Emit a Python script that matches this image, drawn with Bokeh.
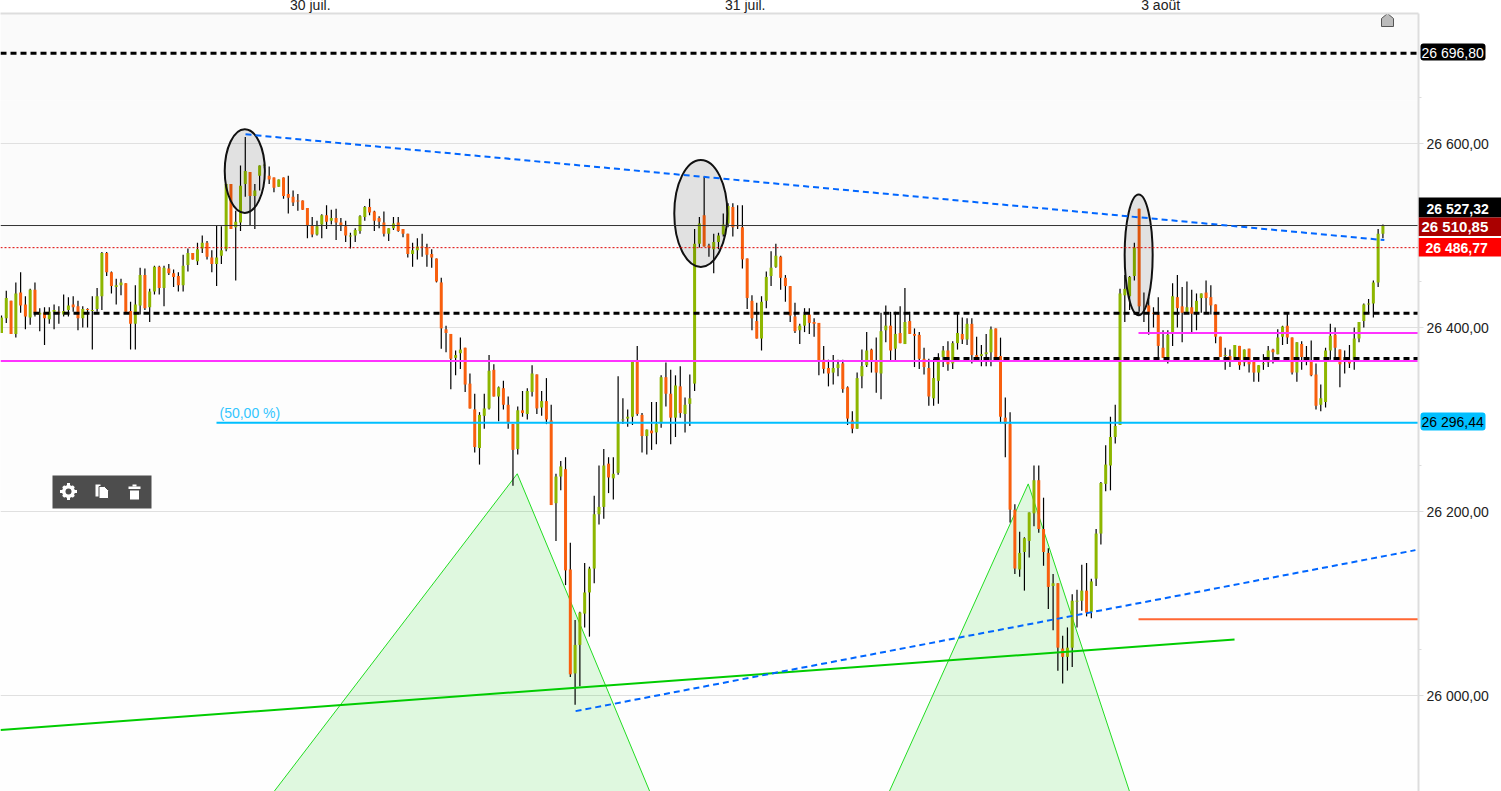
from bokeh.plotting import figure
from bokeh.models import ColumnDataSource, FixedTicker, Range1d, Label
from bokeh.core.properties import value
from bokeh.embed import file_html
from bokeh.resources import INLINE

opens = [
26394,26410,26429,26393,26438,26425,26411,26441,26414,26416,
26409,26417,26417,26414,26419,26425,26423,26410,26420,26418,
26420,26434,26481,26460,26444,26446,26448,26418,26404,26424,
26457,26422,26439,26466,26443,26464,26459,26456,26446,26468,
26481,26472,26486,26492,26476,26469,26478,26485,26556,26509,
26514,26556,26569,26543,26565,26576,26565,26563,26553,26563,
26545,26542,26538,26538,26530,26511,26501,26512,26522,26516,
26519,26514,26510,26499,26500,26505,26520,26531,26526,26519,
26514,26502,26508,26514,26507,26502,26480,26484,26488,26487,
26480,26475,26449,26398,26393,26367,26372,26378,26339,26311,
26269,26304,26312,26354,26325,26334,26316,26295,26268,26310,
26306,26330,26349,26313,26320,26299,26209,26238,26246,26137,
26024,26055,26089,26112,26138,26197,26205,26252,26236,26242,
26299,26301,26303,26363,26305,26282,26288,26286,26296,26346,
26328,26302,26336,26306,26317,26339,26491,26522,26489,26485,
26493,26501,26513,26531,26511,26509,26475,26429,26407,26388,
26429,26456,26466,26477,26454,26445,26412,26397,26402,26414,
26406,26405,26365,26356,26351,26356,26361,26335,26299,26290,
26347,26359,26376,26363,26350,26397,26402,26377,26394,26382,
26407,26393,26392,26366,26356,26323,26342,26368,26375,26361,
26383,26393,26387,26404,26370,26369,26371,26373,26399,26369,
26302,26295,26202,26137,26156,26168,26198,26234,26181,26155,
26119,26122,26051,26042,26052,26102,26103,26114,26091,26127,
26176,26230,26250,26281,26294,26435,26434,26456,26529,26417,
26424,26416,26414,26378,26367,26394,26433,26423,26417,26422,
26417,26432,26438,26433,26425,26390,26369,26369,26368,26380,
26362,26377,26363,26351,26360,26362,26376,26371,26390,26402,
26389,26351,26382,26366,26363,26349,26316,26319,26375,26392,
26376,26365,26365,26365,26388,26407,26425,26426,26449,26502]
highs = [
26413,26440,26429,26449,26460,26434,26442,26449,26421,26422,
26422,26425,26423,26436,26433,26434,26429,26423,26421,26434,
26443,26482,26482,26461,26453,26453,26448,26428,26446,26465,
26464,26442,26467,26467,26467,26469,26463,26460,26479,26486,
26481,26492,26500,26494,26484,26511,26510,26556,26556,26527,
26576,26607,26569,26556,26576,26578,26575,26563,26561,26563,
26565,26549,26545,26538,26530,26520,26516,26523,26533,26528,
26529,26519,26516,26503,26508,26522,26532,26540,26527,26521,
26526,26508,26520,26520,26507,26502,26492,26497,26502,26491,
26485,26475,26454,26402,26393,26375,26389,26378,26350,26328,
26308,26328,26370,26360,26336,26342,26325,26295,26314,26331,
26334,26359,26349,26331,26345,26316,26241,26255,26259,26166,
26082,26091,26144,26140,26217,26250,26268,26259,26259,26347,
26323,26311,26364,26380,26307,26289,26319,26319,26348,26362,
26354,26348,26358,26324,26349,26507,26520,26564,26491,26502,
26503,26524,26535,26535,26533,26533,26475,26435,26427,26434,
26461,26483,26491,26478,26457,26445,26427,26404,26421,26421,
26410,26405,26380,26365,26370,26365,26365,26336,26309,26351,
26376,26395,26377,26389,26416,26424,26417,26417,26423,26443,
26417,26399,26395,26378,26366,26366,26372,26380,26385,26385,
26416,26411,26410,26410,26390,26381,26393,26401,26399,26389,
26324,26308,26208,26178,26172,26199,26250,26250,26215,26160,
26132,26122,26065,26074,26110,26115,26142,26144,26127,26181,
26232,26272,26303,26316,26442,26457,26456,26492,26529,26438,
26433,26422,26433,26397,26397,26448,26457,26444,26450,26441,
26437,26437,26451,26446,26425,26390,26378,26376,26381,26380,
26376,26377,26368,26359,26371,26380,26377,26398,26402,26415,
26389,26384,26385,26380,26386,26361,26338,26378,26404,26400,
26376,26375,26381,26400,26406,26426,26431,26451,26507,26512]
lows = [
26394,26405,26393,26389,26416,26398,26403,26412,26396,26381,
26404,26398,26404,26412,26412,26417,26397,26400,26400,26376,
26417,26419,26456,26437,26425,26435,26417,26376,26376,26414,
26419,26406,26436,26436,26423,26457,26444,26439,26439,26461,
26474,26468,26481,26474,26460,26445,26469,26483,26507,26451,
26505,26542,26511,26507,26549,26573,26556,26547,26553,26540,
26524,26532,26527,26528,26497,26498,26500,26497,26507,26512,
26495,26505,26493,26486,26493,26502,26516,26522,26505,26508,
26499,26494,26506,26504,26498,26476,26466,26474,26477,26466,
26465,26449,26377,26373,26333,26348,26355,26330,26312,26264,
26251,26290,26311,26325,26298,26311,26290,26228,26262,26303,
26300,26325,26306,26304,26295,26207,26168,26223,26120,26020,
25990,26010,26074,26064,26122,26186,26192,26220,26213,26240,
26295,26292,26294,26304,26264,26262,26267,26273,26291,26314,
26273,26281,26302,26286,26293,26331,26487,26488,26477,26459,
26485,26499,26509,26499,26507,26464,26420,26397,26388,26375,
26421,26445,26465,26441,26428,26406,26394,26382,26395,26393,
26390,26348,26350,26336,26338,26347,26329,26294,26285,26290,
26334,26357,26351,26329,26322,26384,26363,26363,26383,26382,
26393,26357,26355,26349,26315,26315,26317,26357,26353,26355,
26376,26382,26381,26361,26364,26358,26358,26358,26365,26296,
26259,26188,26132,26129,26114,26150,26184,26177,26141,26094,
26071,26027,26013,26027,26031,26074,26092,26086,26084,26119,
26164,26222,26223,26274,26294,26406,26419,26451,26417,26406,
26392,26400,26368,26367,26361,26380,26400,26384,26417,26395,
26397,26416,26416,26414,26383,26368,26354,26357,26363,26354,
26358,26351,26341,26341,26354,26357,26361,26371,26381,26382,
26349,26341,26354,26359,26347,26311,26309,26313,26365,26365,
26335,26350,26356,26354,26384,26400,26416,26411,26444,26497]
closes = [
26411,26432,26393,26437,26424,26412,26441,26416,26416,26410,
26417,26419,26416,26418,26424,26422,26410,26420,26419,26419,
26434,26481,26460,26445,26446,26449,26417,26404,26425,26457,
26421,26439,26466,26443,26465,26459,26455,26446,26467,26481,
26474,26485,26492,26477,26469,26476,26484,26556,26507,26515,
26554,26570,26543,26549,26576,26577,26561,26552,26561,26543,
26541,26536,26537,26528,26511,26501,26510,26522,26515,26519,
26514,26511,26500,26500,26506,26521,26531,26525,26516,26515,
26502,26508,26513,26505,26502,26480,26484,26488,26487,26479,
26476,26450,26399,26394,26366,26370,26376,26338,26312,26270,
26305,26312,26353,26325,26335,26316,26297,26267,26310,26307,
26331,26350,26312,26320,26300,26207,26238,26249,26136,26023,
26055,26090,26112,26138,26197,26205,26250,26237,26241,26297,
26300,26303,26363,26306,26282,26289,26285,26295,26346,26328,
26302,26337,26307,26316,26323,26491,26513,26488,26487,26493,
26500,26512,26532,26509,26510,26474,26432,26410,26388,26428,
26455,26465,26478,26454,26445,26413,26396,26402,26414,26405,
26404,26363,26355,26350,26356,26360,26333,26301,26290,26345,
26358,26375,26363,26351,26396,26402,26375,26393,26383,26406,
26393,26391,26366,26357,26325,26345,26367,26375,26360,26383,
26394,26387,26404,26370,26368,26371,26373,26398,26368,26303,
26295,26202,26138,26155,26171,26199,26234,26181,26156,26118,
26122,26052,26042,26052,26103,26103,26114,26090,26124,26176,
26231,26251,26281,26293,26437,26442,26455,26487,26423,26416,
26417,26415,26380,26367,26392,26434,26421,26416,26422,26415,
26429,26437,26432,26424,26390,26368,26370,26363,26381,26359,
26376,26360,26351,26359,26361,26375,26373,26389,26401,26389,
26351,26384,26368,26367,26348,26315,26323,26375,26391,26378,
26360,26366,26361,26388,26406,26425,26426,26449,26502,26511]

y_ticks = [26000, 26200, 26400, 26600]
y_tick_labels = ["26 000,00", "26 200,00", "26 400,00", "26 600,00"]
y_minor = [26050, 26250, 26450, 26650]
x_ticks = [64.6, 155.6, 242.5]
x_tick_labels = ["30 juil.", "31 juil.", "3 août"]

res_top = 26698.0
res_mid = 26415.4
res_low = 26366.3
mag_long = 26363.6
mag_short = 26394.0
fib_50 = 26296.44
stop_line = 26083.0
last_high = 26510.85
last_dot = 26486.77

trend_a = ([51.05, 289.3], [26610, 26495])
trend_b = ([120.1, 295.8], [25983, 26158])
trend_c = ([-0.21, 257.96], [25962.5, 26061])
head_1 = ([55.6, 107.9, 136.4], [25886, 26241, 25886])
head_2 = ([184.9, 214.8, 236.6], [25886, 26230, 25886])
circles_x = [50.9, 146.3, 237.9]
circles_y = [26570, 26524, 26479]
circles_w = [8.4, 11.1, 5.86]
circles_h = [91, 116.3, 131.5]

flag_texts = ["26 696,80", "26 296,44", "26 527,32", "26 510,85", "26 486,77"]

FONT = "Liberation Sans"
PX_PER_BAR = 4.78
PX_PER_PT = 0.92
LIFT = 7

def sx(px):
    return (px - 1) / PX_PER_BAR

def sy(py):
    return 26000 + (695.0 - py) / PX_PER_PT

Y_LO = sy(791)
Y_HI = sy(13)

p = figure(width=1501, height=791 + LIFT, output_backend="svg", toolbar_location=None,
           x_range=Range1d(-1 / PX_PER_BAR, 1417 / PX_PER_BAR), y_range=Range1d(Y_LO, Y_HI),
           x_axis_location="above", y_axis_location="right",
           min_border_left=0, min_border_right=83, min_border_top=13, min_border_bottom=0,
           background_fill_color="#FEFEFE", border_fill_color="#FFFFFF",
           outline_line_color=None,
           styles={"position": "absolute", "left": "0px", "top": f"-{LIFT}px"})

ax = p.yaxis[0]
ax.ticker = FixedTicker(ticks=y_ticks, minor_ticks=y_minor)
ax.major_label_overrides = dict(zip(y_ticks, y_tick_labels))
ax.major_label_text_font = FONT
ax.major_label_text_font_size = "14px"
ax.major_label_text_color = "#222222"
ax.major_label_standoff = 3
ax.axis_line_color = "#DDDDDD"
ax.axis_line_width = 2
ax.major_tick_line_color = "#DDDDDD"
ax.major_tick_in = 0
ax.major_tick_out = 5
ax.minor_tick_line_color = "#DDDDDD"
ax.minor_tick_in = 0
ax.minor_tick_out = 3

ax = p.xaxis[0]
ax.ticker = FixedTicker(ticks=x_ticks)
ax.major_label_overrides = dict(zip(x_ticks, x_tick_labels))
ax.major_label_text_font = FONT
ax.major_label_text_font_size = "14px"
ax.major_label_text_color = "#222222"
ax.major_label_standoff = -5
ax.axis_line_color = "#DDDDDD"
ax.axis_line_width = 2
ax.major_tick_line_color = None
ax.minor_tick_line_color = None

p.xgrid.visible = False
p.ygrid[0].ticker = FixedTicker(ticks=y_ticks)
p.ygrid[0].grid_line_color = "#E0E0E0"
p.ygrid[0].grid_line_width = 1

x0, x1 = -1 / PX_PER_BAR, 1417 / PX_PER_BAR

p.quad(left=[x0] * 3, right=[x1] * 3, top=[sy(13), sy(100), sy(250)], bottom=[sy(100), sy(250), sy(500)],
       fill_color=["#FAFAFA", "#FBFBFB", "#FDFDFD"], line_color=None, level="image")

for xs, ys in (head_1, head_2):
    p.patch(xs, ys, fill_color="#00CC00", fill_alpha=0.12, line_color="#22DD22", line_width=1)

idx = list(range(len(opens)))
colors = ["#8DB600" if c >= o else "#F85F0E" for o, c in zip(opens, closes)]
src = ColumnDataSource(dict(x=idx, o=opens, h=highs, l=lows, c=closes, color=colors))
p.segment("x", "h", "x", "l", source=src, line_color="#000000", line_width=1.2)
p.vbar(x="x", top="o", bottom="c", width=3.0 / PX_PER_BAR, source=src,
       fill_color="color", line_color=None)

p.ellipse(circles_x, circles_y, width=circles_w, height=circles_h,
          fill_color="#000000", fill_alpha=0.1, line_color="#111111", line_width=2)

p.line([x0, x1], [last_high, last_high], line_color="#333333", line_width=1)
p.line([x0, x1], [last_dot, last_dot], line_color="#DD0000", line_width=1, line_dash="2 2")
p.line([x0, x1], [res_top, res_top], line_color="#000000", line_width=3, line_dash="6 4")
p.line([sx(33), x1], [res_mid, res_mid], line_color="#000000", line_width=3, line_dash="6 4")
p.line([sx(933), x1], [res_low, res_low], line_color="#000000", line_width=3, line_dash="6 4")
p.line([x0, x1], [mag_long, mag_long], line_color="#FF33FF", line_width=2)
p.line([sx(1138), x1], [mag_short, mag_short], line_color="#FF33FF", line_width=2)
p.line([sx(216), x1], [fib_50, fib_50], line_color="#00BFFF", line_width=2)
p.line([sx(1138), x1], [stop_line, stop_line], line_color="#FF6633", line_width=2)
p.line(trend_c[0], trend_c[1], line_color="#00CC00", line_width=2)
p.line(trend_a[0], trend_a[1], line_color="#0066FF", line_width=2, line_dash="6 4")
p.line(trend_b[0], trend_b[1], line_color="#0066FF", line_width=2, line_dash="6 4")

p.add_layout(Label(x=219, y=sy(412), x_units="screen", y_units="data", text="(50,00 %)",
                   text_font=FONT, text_font_size="14px", text_color="#33C6FF",
                   text_baseline="middle"))

p.patch([sx(1381), sx(1381), sx(1387), sx(1393), sx(1393)],
        [sy(26), sy(18), sy(13), sy(18), sy(26)],
        fill_color="#BBBBBB", line_color="#555555", line_width=1)

DARK = "#4D4D4D"
p.quad(left=[sx(52)], right=[sx(151)], top=[sy(475)], bottom=[sy(508)],
       fill_color=DARK, line_color=None)
gx, gy = sx(68), sy(491)
p.scatter([gx], [gy], marker="cross", size=17, line_color="#FFFFFF", line_width=3, fill_color=None)
p.scatter([gx], [gy], marker="x", size=15, line_color="#FFFFFF", line_width=3, fill_color=None)
p.scatter([gx], [gy], marker="circle", size=13, line_color=None, fill_color="#FFFFFF")
p.scatter([gx], [gy], marker="circle", size=6, line_color=None, fill_color=DARK)
p.quad(left=[sx(95)], right=[sx(100)], top=[sy(484)], bottom=[sy(496)], fill_color="#FFFFFF", line_color=None)
p.patch([sx(98.5), sx(104), sx(108), sx(108), sx(98.5)],
        [sy(486), sy(486), sy(490), sy(498), sy(498)],
        fill_color="#FFFFFF", line_color=DARK, line_width=1)
p.quad(left=[sx(128), sx(132), sx(129.5)], right=[sx(140), sx(136), sx(138.5)],
       top=[sy(486), sy(484), sy(490)], bottom=[sy(488.5), sy(486), sy(499)],
       fill_color="#FFFFFF", line_color=None)

q = figure(width=83, height=791, output_backend="svg", toolbar_location=None,
           x_range=Range1d(0, 83), y_range=Range1d(sy(791), sy(0)),
           min_border=0, background_fill_color=None, border_fill_color=None,
           outline_line_color=None, x_axis_type=None, y_axis_type=None,
           styles={"position": "absolute", "left": "1418px", "top": "0px"})
q.grid.visible = False

q.quad(left=[2, 2], right=[67, 67], top=[sy(43), sy(412)], bottom=[sy(60), sy(430)],
       fill_color=["#000000", "#00BFFF"], line_color=None, border_radius=3)
q.quad(left=[0, 0, 0], right=[83, 83, 83], top=[sy(197), sy(217), sy(237.5)],
       bottom=[sy(217), sy(235.5), sy(256)],
       fill_color=["#000000", "#AA0000", "#FF0000"], line_color=None)

def tag(x, py, text, color, bold=False, size=14):
    q.text([x], [sy(py)], text=[text], text_font=value(FONT), text_font_size=f"{size}px",
           text_color=color, text_font_style="bold" if bold else "normal", text_baseline="middle")

tag(3, 52, flag_texts[0], "#FFFFFF")
tag(3, 421.5, flag_texts[1], "#000000")
tag(8, 208, flag_texts[2], "#FFFFFF", True)
tag(3, 225.5, flag_texts[3], "#FFFFFF", True, 15)
tag(7, 247, flag_texts[4], "#FFFFFF", True)

open("out.html", "w").write(file_html([p, q], INLINE))
